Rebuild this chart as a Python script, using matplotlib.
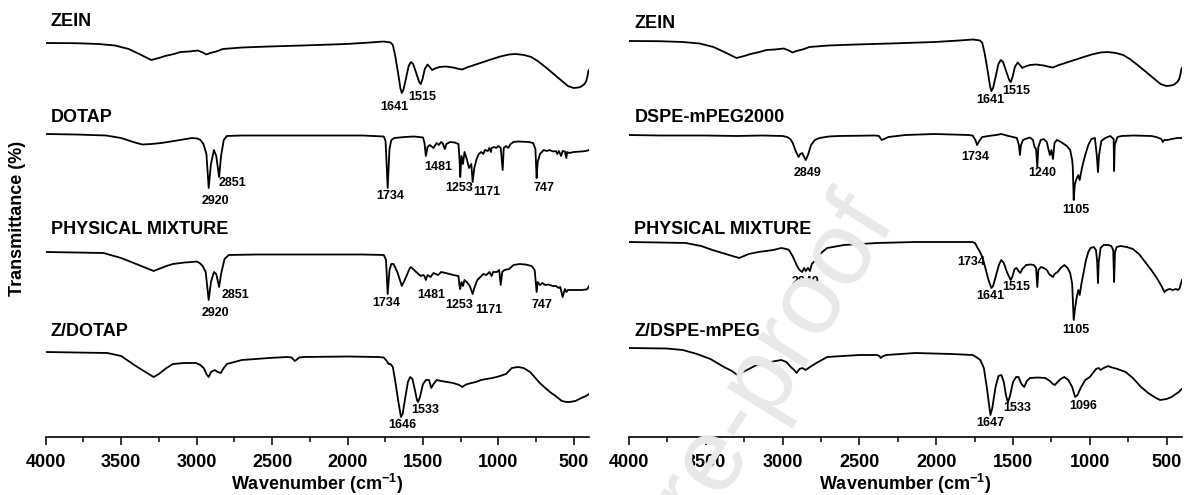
import matplotlib
matplotlib.use("Agg")
import matplotlib.pyplot as plt
from matplotlib.ticker import MultipleLocator
import numpy as np

plt.rcParams["font.family"] = ["Liberation Sans", "DejaVu Sans"]
plt.rcParams["font.weight"] = "bold"
plt.rcParams["mathtext.fontset"] = "custom"
plt.rcParams["mathtext.rm"] = "Liberation Sans:bold"
plt.rcParams["mathtext.default"] = "rm"

# FTIR spectra as (wavenumber cm-1, transmittance %)
zein = [(4000, 100), (3800, 99.8), (3650, 99), (3540, 97.5), (3450, 94), (3380, 89), (3300, 83),
        (3250, 85), (3209, 87), (3150, 89), (3106, 91), (3050, 91.5), (2992, 92.5), (2960, 90.5),
        (2935, 88.5), (2910, 90), (2870, 91.5), (2826, 94), (2700, 95.5), (2520, 96.5), (2300, 97.5),
        (2009, 99), (1850, 100.5), (1760, 101.5), (1715, 100.5), (1700, 98), (1685, 88), (1665, 70),
        (1650, 55), (1641, 50), (1630, 53), (1615, 63), (1595, 77), (1580, 81), (1565, 79), (1545, 70),
        (1525, 61), (1515, 59), (1503, 64), (1488, 74), (1470, 78.5), (1455, 76), (1440, 73),
        (1420, 74.5), (1390, 76), (1350, 76.5), (1300, 75.5), (1260, 74), (1240, 73.5), (1210, 75.5),
        (1180, 77), (1140, 79), (1090, 81.5), (1040, 84), (988, 86.5), (930, 88.5), (885, 89),
        (830, 88), (783, 86), (740, 82), (681, 75), (630, 68.5), (579, 62), (540, 57), (502, 55),
        (470, 55.5), (451, 56.5), (430, 59), (418, 62), (410, 67), (404, 72), (400, 73)]

dotap = [(4000, 100), (3800, 99.5), (3600, 98.5), (3500, 96), (3420, 92), (3360, 89.5), (3300, 90),
         (3234, 91), (3150, 93), (3030, 96), (2995, 95.5), (2975, 94), (2955, 90), (2935, 80),
         (2920, 46), (2905, 70), (2885, 84), (2870, 78), (2851, 57), (2838, 78), (2820, 94), (2800, 98),
         (2700, 98.5), (2200, 98.5), (1900, 98.5), (1760, 97.5), (1748, 93), (1734, 46), (1722, 85),
         (1710, 94), (1690, 96), (1620, 97), (1560, 97.5), (1500, 96.5), (1490, 91), (1481, 78),
         (1470, 87), (1455, 89), (1430, 86), (1410, 91), (1395, 89), (1380, 92), (1370, 91), (1355, 85),
         (1345, 90), (1320, 92), (1290, 91.5), (1265, 90), (1258, 75), (1253, 57), (1245, 78),
         (1235, 70), (1225, 82), (1210, 75), (1195, 66), (1180, 70), (1171, 52), (1160, 66), (1145, 75),
         (1130, 80), (1115, 82), (1100, 80), (1090, 84), (1070, 83), (1060, 86), (1050, 82), (1045, 86),
         (1030, 87), (1015, 86), (1000, 88), (985, 86), (972, 64), (965, 86), (950, 88), (935, 86),
         (920, 90), (900, 92), (870, 92.5), (800, 92), (770, 91), (755, 85), (747, 56), (740, 72),
         (725, 80), (700, 84), (680, 83), (660, 84), (640, 82.5), (620, 83), (610, 80), (600, 83),
         (585, 78), (575, 83), (560, 82.5), (550, 76), (545, 82), (530, 81), (500, 82), (450, 82.5),
         (420, 83), (400, 84)]

mix_dotap = [(4000, 100), (3800, 99.5), (3617, 99), (3500, 94), (3400, 88), (3285, 81), (3200, 86),
             (3157, 88), (3080, 89.5), (3030, 90), (3000, 90.5), (2980, 89), (2960, 86), (2940, 80),
             (2920, 52), (2905, 70), (2885, 80), (2870, 78), (2851, 65), (2838, 78), (2815, 93),
             (2787, 97), (2600, 97.5), (2200, 97.5), (1900, 97.5), (1760, 97), (1745, 92), (1734, 58),
             (1722, 82), (1710, 88), (1695, 88), (1670, 80), (1640, 66), (1615, 74), (1590, 83),
             (1580, 85), (1545, 80), (1515, 76), (1500, 77), (1490, 76), (1481, 72), (1470, 77),
             (1450, 75), (1430, 79), (1400, 77), (1380, 80), (1350, 79), (1300, 77), (1265, 76),
             (1258, 66), (1253, 63), (1245, 70), (1235, 66), (1225, 72), (1210, 70), (1190, 66),
             (1171, 58), (1160, 64), (1140, 72), (1120, 75), (1100, 78), (1080, 77), (1060, 80),
             (1045, 76), (1035, 80), (1010, 80), (995, 82), (985, 67), (975, 80), (960, 82), (930, 83),
             (900, 87), (860, 88), (820, 87.5), (780, 86), (760, 82), (747, 60), (740, 70), (725, 67),
             (710, 69), (690, 67), (670, 67.5), (640, 66), (620, 66), (600, 64), (590, 65), (575, 55),
             (560, 63), (550, 60), (540, 62), (500, 62), (450, 62), (420, 62.5), (410, 63), (400, 66)]

z_dotap = [(4000, 100), (3800, 99.5), (3591, 99), (3500, 96), (3413, 87), (3350, 81), (3285, 75),
           (3250, 78), (3200, 84), (3157, 88), (3080, 89), (3004, 89), (2975, 87), (2953, 84),
           (2935, 78), (2920, 75), (2905, 80), (2880, 82), (2860, 80), (2840, 79), (2820, 84),
           (2800, 88), (2700, 92), (2520, 94), (2400, 95), (2370, 94.5), (2350, 91), (2340, 92),
           (2320, 94.5), (2290, 95), (2000, 95.5), (1800, 95), (1760, 94.5), (1740, 91), (1728, 88),
           (1715, 88), (1700, 85), (1685, 72), (1665, 52), (1646, 35), (1635, 38), (1620, 52),
           (1600, 70), (1585, 75), (1570, 73), (1555, 63), (1540, 52), (1533, 50), (1520, 55),
           (1500, 68), (1480, 72), (1460, 72), (1445, 64), (1430, 68), (1410, 72), (1380, 71),
           (1340, 70), (1300, 69), (1260, 67), (1240, 65), (1215, 67.5), (1180, 69), (1150, 70),
           (1115, 72), (1080, 73), (1040, 74), (1000, 75.5), (950, 78), (911, 84), (870, 85), (834, 84),
           (790, 80), (732, 70), (690, 64), (650, 59), (630, 57), (580, 51), (550, 50), (528, 50),
           (490, 51), (451, 54), (420, 56), (400, 58)]

dspe = [(4000, 100), (3800, 99.5), (3507, 99.5), (3300, 99), (3133, 99.5), (3000, 99), (2971, 98),
        (2950, 96), (2934, 92), (2915, 84), (2896, 78), (2885, 81), (2872, 82), (2860, 78), (2849, 75),
        (2835, 80), (2815, 90), (2790, 95), (2760, 97), (2700, 98.5), (2635, 99), (2400, 99.5),
        (2373, 99), (2355, 95), (2340, 96), (2311, 98), (2200, 100), (2012, 101), (1900, 100.5),
        (1790, 100), (1763, 99.5), (1745, 95), (1734, 90), (1720, 94), (1700, 98), (1660, 99),
        (1610, 100), (1576, 101), (1530, 99), (1500, 98), (1475, 97), (1462, 90), (1455, 80),
        (1448, 90), (1435, 95), (1420, 96), (1390, 97.5), (1370, 95), (1360, 88), (1350, 86),
        (1342, 68), (1335, 88), (1320, 95), (1300, 96), (1280, 93), (1270, 86), (1260, 80), (1250, 85),
        (1240, 76), (1230, 92), (1215, 95), (1200, 94), (1178, 92), (1150, 89), (1128, 85), (1115, 75),
        (1111, 68), (1105, 35), (1098, 50), (1090, 55), (1075, 60), (1066, 55), (1050, 68), (1030, 80),
        (1010, 90), (990, 96), (967, 97), (955, 80), (947, 63), (940, 80), (925, 94), (900, 97),
        (867, 99), (845, 96), (842, 64), (838, 90), (820, 98), (792, 99), (717, 99.5), (600, 99),
        (568, 98), (535, 96), (525, 93), (515, 95), (493, 95), (468, 96), (430, 97), (400, 97)]

mix_dspe = [(4000, 100), (3800, 99.5), (3631, 99), (3530, 96), (3457, 92), (3370, 88), (3283, 84),
            (3220, 88), (3158, 90), (3060, 92), (3009, 94), (2975, 93), (2959, 92), (2935, 86),
            (2909, 77), (2890, 72), (2872, 70), (2860, 74), (2849, 71), (2835, 74), (2822, 71),
            (2810, 78), (2784, 82), (2750, 89), (2710, 94), (2600, 97), (2386, 99), (2137, 100),
            (1900, 100), (1763, 100), (1745, 98.5), (1734, 95), (1715, 90), (1700, 85), (1680, 74),
            (1660, 62), (1641, 54), (1630, 56), (1610, 67), (1590, 78), (1576, 82), (1560, 79),
            (1540, 70), (1515, 62), (1505, 65), (1490, 73), (1477, 74), (1465, 71), (1452, 69),
            (1440, 73), (1414, 77), (1385, 77.5), (1365, 77), (1350, 74), (1342, 55), (1335, 72),
            (1318, 75), (1300, 74), (1280, 72), (1265, 68), (1250, 66), (1240, 65), (1230, 68),
            (1210, 70), (1190, 74), (1166, 77), (1145, 74), (1128, 69), (1115, 58), (1105, 22),
            (1095, 35), (1085, 45), (1075, 52), (1066, 47), (1055, 58), (1040, 70), (1025, 82),
            (1010, 90), (995, 94), (975, 95), (960, 92), (952, 80), (947, 59), (942, 80), (930, 94),
            (910, 97), (880, 97), (860, 96), (848, 92), (842, 60), (836, 90), (825, 95), (800, 96),
            (760, 95), (720, 93), (680, 88), (640, 80), (600, 72), (560, 63), (530, 55), (515, 50),
            (500, 52), (480, 53), (460, 52), (440, 53), (425, 52), (415, 54), (408, 58), (400, 62)]

z_dspe = [(4000, 100), (3756, 99.5), (3650, 98), (3557, 94), (3470, 89), (3382, 81), (3330, 77),
          (3295, 73), (3270, 75), (3220, 79), (3170, 83), (3080, 86), (3009, 88), (2975, 86),
          (2946, 81), (2925, 78), (2909, 75), (2890, 79), (2872, 80), (2850, 78), (2822, 81),
          (2780, 85), (2710, 91), (2500, 93), (2386, 93), (2370, 92), (2361, 90), (2345, 92),
          (2324, 93), (2137, 95), (1900, 94), (1763, 93), (1740, 91), (1713, 88), (1690, 80),
          (1670, 60), (1655, 42), (1647, 33), (1635, 40), (1615, 60), (1595, 72), (1576, 73),
          (1560, 66), (1545, 52), (1533, 46), (1520, 52), (1500, 66), (1480, 71), (1464, 71),
          (1445, 64), (1427, 61), (1410, 67), (1390, 70), (1340, 70.5), (1290, 70), (1260, 67),
          (1240, 64), (1228, 63), (1210, 66), (1190, 69), (1166, 71), (1140, 68), (1115, 61),
          (1096, 51), (1080, 53), (1060, 60), (1030, 68), (1000, 71), (980, 75), (960, 79), (942, 80),
          (930, 78), (910, 80), (880, 82), (867, 81), (820, 79), (767, 76), (720, 70), (667, 61),
          (620, 55), (580, 51), (543, 48), (500, 49), (468, 51), (440, 54), (420, 56), (410, 58),
          (400, 59)]

# band labels: (wavenumber, dx, dy) text offset in points from the band minimum
left_bands = [
    [(1641, -5, -10), (1515, 1, -9)],
    [(2920, 5, -9), (2851, 10, -4), (1734, 2, -6), (1481, 9, -8), (1253, -1, -8), (1171, 10, -7), (747, 5, -7)],
    [(2920, 5, -9), (2851, 12, -6), (1734, -1, -6.5), (1481, 4, -11), (1253, -1, -11.5), (1171, 11.5, -11.5), (747, 3.5, -9)],
    [(1646, 1, -6), (1533, 5, -6)],
]
right_bands = [
    [(1641, -1, -6.5), (1515, 4, -6.5)],
    [(2849, 1.5, -9), (1734, -1.5, -8.5), (1240, -8, -10), (1105, 1.5, -7)],
    [(2849, 0, -8), (1734, -4, -11), (1641, -1, -6), (1515, 4, -5), (1105, 1.5, -7)],
    [(1647, 0, -6), (1533, 6.5, -4.5), (1096, 6, -6.5)],
]

left_names = ["ZEIN", "DOTAP", "PHYSICAL MIXTURE", "Z/DOTAP"]
right_names = ["ZEIN", "DSPE-mPEG2000", "PHYSICAL MIXTURE", "Z/DSPE-mPEG"]
left_offsets = [294, 203, 85, -15]
right_offsets = [296, 202, 95, -11]
left_title_gap = [21, 16, 22, 20]
right_title_gap = [18, 18, 12, 16]


def draw_panel(ax, spectra, names, offsets, gaps, bands):
    for spec, name, off, gap, marks in zip(spectra, names, offsets, gaps, bands):
        wn, t = np.array(spec, dtype=float).T
        ax.plot(wn, t + off, color="black", lw=1.3, solid_joinstyle="round")
        ax.text(3965, off + 100 + gap, name, fontsize=13, fontweight="bold",
                ha="left", va="center")
        for band, dx, dy in marks:
            yv = np.interp(band, wn[::-1], t[::-1]) + off
            ax.annotate(str(band), (band, yv), xytext=(dx, dy), textcoords="offset points",
                        ha="center", va="center", fontsize=9, fontweight="bold")
    ax.set_xlim(4000, 400)
    ax.set_ylim(0, 437)
    ax.set_xticks(np.arange(4000, 499, -500))
    ax.xaxis.set_minor_locator(MultipleLocator(250))
    ax.tick_params(axis="x", which="major", length=6, width=1.1, labelsize=13, pad=6)
    ax.tick_params(axis="x", which="minor", length=3.5, width=1.1)
    for lab in ax.get_xticklabels():
        lab.set_fontweight("bold")
    ax.set_yticks([])
    for side in ["left", "right", "top"]:
        ax.spines[side].set_visible(False)
    ax.spines["bottom"].set_linewidth(1.2)
    ax.set_xlabel(r"Wavenumber (cm$^{-1}$)", fontsize=13, fontweight="bold", labelpad=1)
    ax.patch.set_alpha(0)


fig = plt.figure(figsize=(11.88, 4.95), dpi=100)
ax1 = fig.add_axes([45.7 / 1188, 1 - 437 / 495, (589 - 45.7) / 1188, 437 / 495])
ax2 = fig.add_axes([629 / 1188, 1 - 437 / 495, (1182 - 629) / 1188, 437 / 495])

draw_panel(ax1, [zein, dotap, mix_dotap, z_dotap], left_names, left_offsets, left_title_gap, left_bands)
draw_panel(ax2, [zein, dspe, mix_dspe, z_dspe], right_names, right_offsets, right_title_gap, right_bands)

fig.text(18 / 1188, 1 - 218 / 495, "Transmittance (%)", rotation=90, fontsize=13,
         fontweight="bold", ha="center", va="center")

# journal watermark, runs off the lower edge of the figure
fig.text(897 / 1188, 1 - 221 / 495, "Journal Pre-proof", rotation=58, rotation_mode="anchor",
         ha="right", va="baseline", fontsize=75, fontweight="normal", color="#e8e8e8", zorder=10)

fig.savefig("out.png", dpi=100)
